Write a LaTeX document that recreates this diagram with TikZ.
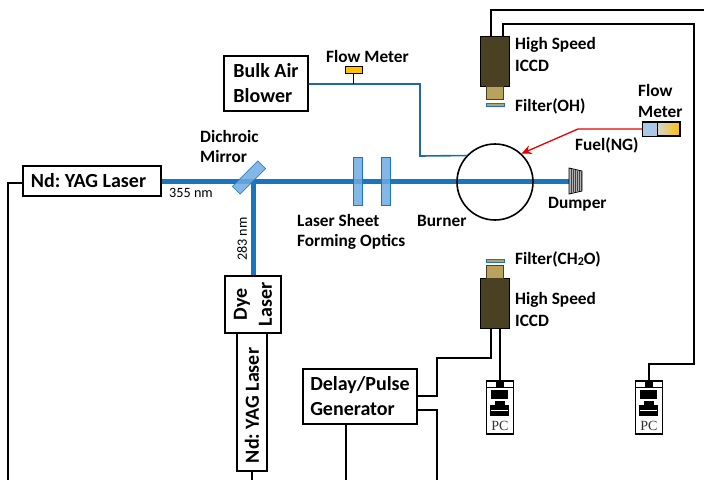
\documentclass[tikz,border=0pt]{standalone}
\usepackage{fontspec}
\setmainfont{Carlito}
\usetikzlibrary{arrows.meta}
\frenchspacing
\definecolor{beamblue}{HTML}{1B75BC}
\definecolor{plateblue}{HTML}{6FAAE0}
\definecolor{airblue}{HTML}{1F6AA5}
\definecolor{iccdbrown}{HTML}{4A4022}
\definecolor{lensbrown}{HTML}{B8A25E}
\definecolor{meteryellow}{HTML}{FFC000}
\definecolor{meterblue}{HTML}{A9C8E6}
\tikzset{
  boxlabel/.style = {font=\fontsize{20}{25}\selectfont\bfseries, align=left},
  partlabel/.style = {font=\fontsize{17.3}{20}\selectfont\bfseries, align=left, anchor=west, inner sep=0pt},
  smalllabel/.style = {font=\fontsize{14.2}{16}\selectfont, inner sep=0pt},
  labbox/.style = {draw, line width=1.4pt, inner sep=0pt, boxlabel},
  wire/.style = {line width=1.3pt},
  beam/.style = {beamblue, line width=5pt},
  airline/.style = {airblue, line width=1.6pt},
  plate/.style = {draw=beamblue, fill=plateblue, line width=0.6pt, minimum width=9pt, minimum height=48pt, inner sep=0pt},
  iccd/.style = {draw=black, fill=iccdbrown, line width=0.7pt, minimum width=29pt, minimum height=50pt, inner sep=0pt},
  lens/.style = {draw=iccdbrown, fill=lensbrown, line width=0.7pt, minimum width=17pt, minimum height=13pt, inner sep=0pt},
  filterglass/.style = {draw=beamblue, fill=lensbrown, line width=0.8pt, minimum width=18pt, minimum height=3pt, inner sep=0pt},
  pcblack/.style = {fill=black, inner sep=0pt},
}
\begin{document}
\begin{tikzpicture}[x=1pt, y=-1pt]
\useasboundingbox (0,0) rectangle (704,480);
\coordinate (dumper) at (569,181);
\coordinate (beamturn) at (253,181);
% laser sources
\draw (92,181) node[labbox, minimum width=138pt, minimum height=30pt] (yagh) {Nd: YAG Laser\hspace{7pt}};
\draw (253,304.5) node[labbox, rotate=90, minimum width=57pt, minimum height=56pt, align=center] (dye) {Dye\\Laser};
\draw (252,402) node[labbox, rotate=90, minimum width=138pt, minimum height=30pt] (yagv) {Nd: YAG Laser\hspace{7pt}};
\draw (266,83.5) node[labbox, minimum width=84pt, minimum height=55pt] (blower) {Bulk Air\hspace{4pt}\\Blower};
\draw (360,396.5) node[labbox, minimum width=114pt, minimum height=55pt] (delay) {Delay/Pulse\\Generator};
% beams
\draw[beam] (yagh.east) -- (dumper);
\draw[beam] (beamturn) -- (dye.east);
\draw (249,177.5) node[draw=beamblue, fill=plateblue, fill opacity=0.85, line width=0.6pt, rotate=45, minimum width=36pt, minimum height=11pt, inner sep=0pt] (mirror) {};
\foreach \x/\n in {357.5/a,386/b}{
  \draw (\x,181) node[plate, fill opacity=0.85] (plate\n) {};
}
\draw (495,182) node[circle, draw, line width=1.6pt, minimum size=76pt, inner sep=0pt] (burner) {};
% dumper
\draw[fill=gray!60, line width=0.8pt] (dumper) ++(0,-13) -- ++(13,3) -- ++(0,20) -- ++(-13,3) -- cycle;
\foreach \x in {2,4,...,12}{
  \draw[line width=0.7pt, black!75] (569+\x,169+\x*0.22) -- (569+\x,193-\x*0.22);
}
% air supply
\coordinate (airturn) at (420,156);
\draw[airline] (blower.east |- 0,84) -- (420,84) -- (airturn) -- (burner.137);
\draw (353.5,69.5) node[draw, fill=meteryellow, line width=0.9pt, minimum width=17pt, minimum height=7pt, inner sep=0pt] (airmeter) {};
\coordinate (airtap) at (353.5,84);
\draw[wire] (airmeter.south) -- (airtap);
% fuel supply
\draw (661.5,129) node[draw, line width=1.3pt, minimum width=37pt, minimum height=14pt, inner sep=0pt, left color=meterblue!70!white, right color=meteryellow, middle color=lensbrown!50!white] (fuelmeter) {};
\draw[fill=meterblue, line width=1pt] (fuelmeter.south west) rectangle (657,122);
\coordinate (fuelturn) at (578,129);
\draw[red!90!black, line width=1.3pt, -{Stealth[length=10pt,width=9pt]}] (fuelmeter.west) -- (fuelturn) -- (burner.47);
% cameras
\draw (494.5,61) node[iccd] (iccdoh) {};
\draw (494.5,92.5) node[lens] (lensoh) {};
\draw (495,104.5) node[filterglass] (filteroh) {};
\draw (494.5,303) node[iccd] (iccdch) {};
\draw (494.5,272) node[lens] (lensch) {};
\draw (495,260.5) node[filterglass] (filterch) {};
% computers
\foreach \x/\n in {500/a,649/b}{
  \draw (\x,407.5) node[draw, line width=1.2pt, minimum width=27pt, minimum height=53pt, inner sep=0pt] (pc\n) {};
  \draw (\x,384) node[pcblack, minimum width=8pt, minimum height=6pt] (port\n) {};
  \draw[line width=0.7pt] (\x-13.5,387) -- (\x+13.5,387);
  \draw (\x-0.5,394.5) node[pcblack, minimum width=17pt, minimum height=9pt] (screen\n) {};
  \draw (\x-0.5,403) node[pcblack, minimum width=10pt, minimum height=4pt] (neck\n) {};
  \draw (\x-0.5,410.5) node[pcblack, minimum width=19pt, minimum height=11pt] (keys\n) {};
  \draw[white, line width=1pt] (\x-9,410.5) -- (\x+8,410.5);
  \draw (\x,425.5) node[font=\fontsize{14}{14}\rmfamily, inner sep=0pt, text=black!80] (pclabel\n) {\fontspec{Liberation Serif}PC};
}
% wiring
\coordinate (topa) at (704,10);
\coordinate (topb) at (694,24);
\coordinate (pcturn) at (694,364);
\coordinate (yagdrop) at (8,480);
\coordinate (yagvdrop) at (252,480);
\coordinate (delaydrop) at (346,480);
\coordinate (triga) at (437,358);
\coordinate (trigb) at (437,480);
\draw[wire] ([xshift=-3.5pt]iccdoh.north) |- (topa);
\draw[wire] ([xshift=8.5pt]iccdoh.north) |- (topb) -- (pcturn) -| (pca.north -| pcb.north);
\draw[wire] ([yshift=-2pt]yagh.west) -| (yagdrop);
\draw[wire] (yagv.west) -- (yagvdrop);
\draw[wire] (delaydrop |- delay.south) -- (delaydrop);
\draw[wire] ([xshift=5.5pt]iccdch.south) -- (pca.north);
\draw[wire] ([xshift=-3.5pt]iccdch.south) |- (triga) |- ([yshift=0.5pt]delay.east);
\draw[wire] ([yshift=-13.5pt]delay.east) -| (trigb);
% labels
\draw (515,44.5) node[partlabel] (labelicoh) {High Speed};
\draw (515,65.5) node[partlabel] (labelicohb) {ICCD};
\draw (515,106.5) node[partlabel] (labelfoh) {Filter(OH)};
\draw (515,259.5) node[partlabel] (labelfch) {Filter(CH\raisebox{-1pt}{\fontsize{12}{12}\selectfont 2}O)};
\draw (515,299.5) node[partlabel] (labelicch) {High Speed};
\draw (515,320.5) node[partlabel] (labelicchb) {ICCD};
\draw (638,90.5) node[partlabel] (labelflow) {Flow};
\draw (638,111.5) node[partlabel] (labelmeter) {Meter};
\draw (575,145.5) node[partlabel] (labelfuel) {Fuel(NG)};
\draw (548,204.5) node[partlabel] (labeldump) {Dumper};
\draw (417,220.5) node[partlabel] (labelburn) {Burner};
\draw (326,56.5) node[partlabel] (labelair) {Flow Meter};
\draw (297,220.5) node[partlabel] (labelsheet) {Laser Sheet};
\draw (297,241.5) node[partlabel] (labelform) {Forming Optics};
\draw (200,136.5) node[partlabel] (labeldich) {Dichroic};
\draw (200,156.5) node[partlabel] (labelmirr) {Mirror};
\draw (191,193) node[smalllabel] (label355) {355 nm};
\draw (242,239) node[smalllabel, rotate=90] (label283) {283 nm};
\end{tikzpicture}
\end{document}
